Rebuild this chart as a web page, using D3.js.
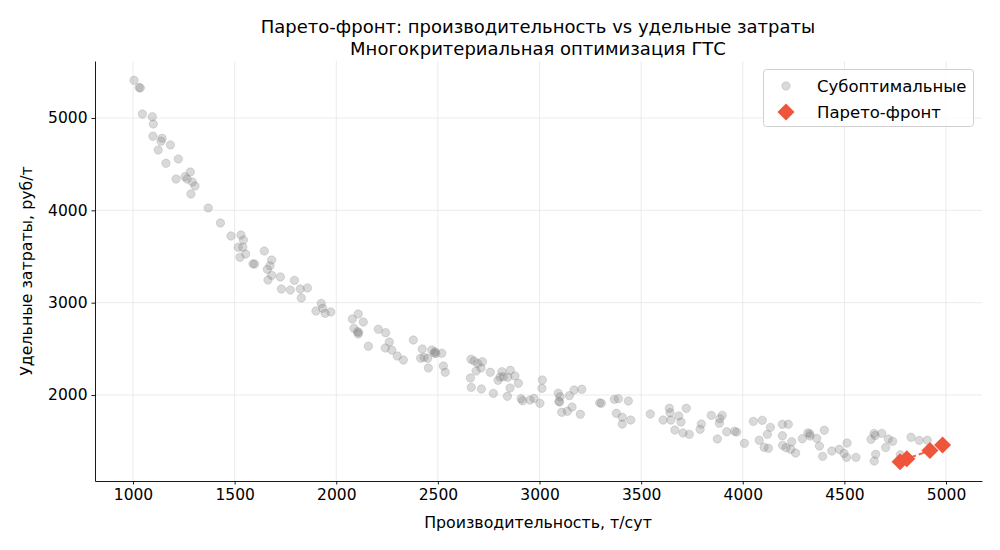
<!DOCTYPE html>
<html><head><meta charset="utf-8">
<script src="https://cdn.jsdelivr.net/npm/d3@7"></script>
<style>body{margin:0;background:#fff;} text{font-family:"DejaVu Sans",sans-serif;}</style>
</head><body><svg id="c" width="1000" height="550"></svg>
<script>
const titleLines = ["Парето-фронт: производительность vs удельные затраты", "Многокритериальная оптимизация ГТС"];
const xLabel = "Производительность, т/сут";
const yLabel = "Удельные затраты, руб/т";
const legendLabels = ["Субоптимальные", "Парето-фронт"];
const xTicks = [1000,1500,2000,2500,3000,3500,4000,4500,5000];
const yTicks = [2000,3000,4000,5000];

const subX = [1005,1030,1036,1046,1095,1100,1098,1143,1138,1184,1124,1223,1162,1282,1256,1266,1212,1292,1305,1285,1370,1430,1482,1531,1543,1518,1540,1554,1526,1646,1590,1598,1682,1674,1661,1682,1664,1725,1794,1730,1774,1823,1858,1828,1926,
1900,1933,1945,1973,2079,2108,2133,2087,2104,2110,2108,2158,2207,2243,2261,2241,2273,2300,2330,2379,2423,2470,2486,2482,2490,2519,2415,2432,2450,2453,2527,2536,2663,2678,2696,2719,2712,2688,2758,2815,2856,2806,2822,2844,2879,2796,2896,2855,2660,2664,2714,2773,2842,2909,2917,2953,2973,3014,3012,3002,3092,3101,3095,3099,3147,3170,3208,3160,3137,3109,3201,3296,3304,
3368,3388,3437,3378,3407,3449,3407,3545,3639,3642,3685,3722,3608,3646,3696,3666,3706,3737,3796,3790,3845,3899,3887,3885,3875,3921,3960,3970,4008,
4052,4096,4136,4121,4081,4105,4126,4195,4224,4195,4241,4196,4213,4236,4260,4293,4320,4330,4331,4364,4377,4401,4393,4438,4475,4498,4511,4513,4557,4631,4646,4651,4684,4716,4737,4703,4654,4647,4775,4828,4868,4908];
const subY = [5408,5330,5325,5043,5014,4935,4802,4780,4748,4708,4653,4556,4509,4415,4364,4339,4339,4307,4264,4177,4025,3863,3722,3733,3679,3600,3600,3527,3491,3560,3420,3418,3462,3400,3361,3296,3246,3278,3242,3148,3137,3148,3159,3051,2991,
2910,2939,2885,2899,2823,2877,2791,2722,2686,2678,2661,2528,2712,2675,2574,2509,2487,2422,2379,2596,2498,2487,2469,2455,2450,2452,2398,2408,2398,2293,2314,2246,2387,2368,2343,2361,2293,2260,2246,2252,2268,2195,2198,2192,2206,2159,2127,2076,2184,2083,2065,2018,1986,1960,1938,1946,1964,2163,2073,1910,2019,1982,1932,1924,1993,2054,2062,1870,1824,1813,1791,1915,1911,
1953,1960,1935,1802,1759,1729,1686,1794,1856,1808,1773,1856,1729,1729,1708,1621,1589,1574,1686,1629,1780,1780,1743,1694,1524,1603,1608,1598,1477,
1715,1726,1650,1574,1510,1434,1423,1683,1683,1559,1494,1455,1429,1412,1372,1527,1590,1580,1556,1531,1448,1618,1336,1394,1412,1369,1325,1480,1325,1520,1585,1561,1585,1524,1499,1431,1358,1285,1353,1543,1509,1511];

const paretoX = [4774,4807,4921,4983];
const paretoY = [1278,1310,1399,1459];

const svg = d3.select("#c");
const L=95,R=982,T=61,B=481;
const x = d3.scaleLinear().domain([813,5177]).range([L,R]);
const y = d3.scaleLinear().domain([1069,5617]).range([B,T]);
const gridC="#e6e6e6";
const pareto="#EF553B";

// grid
svg.append("g").selectAll("line").data(xTicks).join("line")
  .attr("x1",d=>x(d)).attr("x2",d=>x(d)).attr("y1",T).attr("y2",B)
  .attr("stroke",gridC).attr("stroke-width",0.8);
svg.append("g").selectAll("line").data(yTicks).join("line")
  .attr("y1",d=>y(d)).attr("y2",d=>y(d)).attr("x1",L).attr("x2",R)
  .attr("stroke",gridC).attr("stroke-width",0.8);

// axes
const xa = svg.append("g").attr("transform",`translate(0,${B})`)
  .call(d3.axisBottom(x).tickValues(xTicks).tickFormat(d3.format("d")).tickSizeInner(3.5).tickSizeOuter(0).tickPadding(4));
const ya = svg.append("g").attr("transform",`translate(${L},0)`)
  .call(d3.axisLeft(y).tickValues(yTicks).tickFormat(d3.format("d")).tickSizeInner(3.5).tickSizeOuter(0).tickPadding(4));
[xa,ya].forEach(a=>{
  a.selectAll("text").attr("font-size",15.5).attr("fill","#000").attr("font-family","DejaVu Sans");
  a.select(".domain").attr("stroke","#000").attr("stroke-width",0.9);
  a.selectAll(".tick line").attr("stroke","#000").attr("stroke-width",0.9);
});

// scatter
const sub = subX.map((v,i)=>({x:v,y:subY[i]}));
svg.append("g").selectAll("circle").data(sub).join("circle")
  .attr("cx",d=>x(d.x)).attr("cy",d=>y(d.y)).attr("r",4.2)
  .attr("fill","#808080").attr("fill-opacity",0.3)
  .attr("stroke","#808080").attr("stroke-opacity",0.3).attr("stroke-width",0.8);

// pareto
const par = paretoX.map((v,i)=>({x:v,y:paretoY[i]}));
svg.append("path").datum(par)
  .attr("d",d3.line().x(d=>x(d.x)).y(d=>y(d.y)))
  .attr("fill","none").attr("stroke",pareto).attr("stroke-width",2)
  .attr("stroke-dasharray","7,3").attr("opacity",0.9);
const dia = s=>`M0,${-s}L${s},0L0,${s}L${-s},0Z`;
svg.append("g").selectAll("path").data(par).join("path")
  .attr("transform",d=>`translate(${x(d.x)},${y(d.y)})`)
  .attr("d",dia(8.5)).attr("fill",pareto);

// titles
svg.append("text").attr("x",538).attr("y",33).attr("text-anchor","middle").attr("font-size",18).text(titleLines[0]);
svg.append("text").attr("x",538).attr("y",55).attr("text-anchor","middle").attr("font-size",18).text(titleLines[1]);
svg.append("text").attr("x",538).attr("y",528).attr("text-anchor","middle").attr("font-size",15.8).text(xLabel);
svg.append("text").attr("transform","translate(32,271) rotate(-90)").attr("text-anchor","middle").attr("font-size",15.8).text(yLabel);

// legend
const lg = svg.append("g");
lg.append("rect").attr("x",763.5).attr("y",69.5).attr("width",210).attr("height",57).attr("rx",3)
  .attr("fill","#fff").attr("fill-opacity",0.8).attr("stroke","#d0d0d0");
lg.append("circle").attr("cx",786).attr("cy",86).attr("r",4.2)
  .attr("fill","#808080").attr("fill-opacity",0.3).attr("stroke","#808080").attr("stroke-opacity",0.3).attr("stroke-width",0.8);
lg.append("path").attr("transform","translate(786,112)").attr("d",dia(8.5)).attr("fill",pareto);
lg.append("text").attr("x",817).attr("y",92).attr("font-size",16.5).text(legendLabels[0]);
lg.append("text").attr("x",817).attr("y",118).attr("font-size",16.5).text(legendLabels[1]);
</script></body></html>
